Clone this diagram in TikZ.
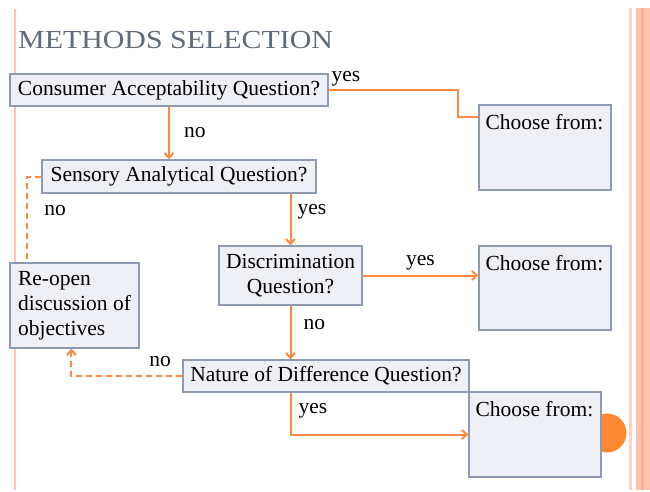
\documentclass[tikz,border=0pt]{standalone}
\usepackage{fontspec}
\setmainfont{Liberation Serif}
\usetikzlibrary{arrows.meta, positioning}
\definecolor{boxfill}{HTML}{EEF0F6}
\definecolor{boxline}{HTML}{8E9AB2}
\definecolor{flowline}{HTML}{FF8A3D}
\definecolor{titlegray}{HTML}{5F6A7A}
\definecolor{stripe}{HTML}{FFC2AC}
\definecolor{stripedark}{HTML}{FFAE90}
\definecolor{dotorange}{HTML}{FF8833}

\begin{document}
\begin{tikzpicture}[x=1pt, y=-1pt, font=\fontsize{21.5}{25}\selectfont, inner sep=2pt,
    qbox/.style={draw=boxline, fill=boxfill, line width=1.2pt, inner sep=4pt},
    flow/.style={draw=flowline, line width=2pt},
    tip/.style={-{Straight Barb[length=5pt, width=9pt]}},
    back/.style={flow, dash pattern=on 6pt off 4pt}]
    \useasboundingbox (0,0) rectangle (650,492);
    \draw[stripe, line width=2.5pt] (15,9) -- (15,490);
    \fill[stripe!70] (629,8) rectangle (632,490);
    \fill[stripe] (636,8) rectangle (650,490);
    \fill[stripedark] (641,8) rectangle (644,490);
    \fill[dotorange] (607,433) circle (19.5);

    \node[anchor=base west, inner sep=0pt, text=titlegray, font=\fontsize{26}{30}\selectfont] (title) at (18,49) {\scalebox{1.15}[1]{METHODS SELECTION}};

    \node[qbox, minimum width=318, minimum height=32] (cons) at (169,90) {Consumer Acceptability Question?};
    \node[qbox, minimum width=274, minimum height=33] (sens) at (179,176.5) {Sensory Analytical Question?};
    \node[qbox, minimum width=143, minimum height=59, align=center] (disc) at (290.5,275.5) {Discrimination\\Question?};
    \node[qbox, minimum width=286, minimum height=32] (nat) at (326,376) {Nature of Difference Question?};
    \node[qbox, minimum width=129, minimum height=85, align=left] (reopen) at (74.5,305.5) {Re-open\\discussion of\\objectives};
    \node[qbox, minimum width=132, minimum height=85, label={[anchor=north west, inner sep=0pt, xshift=7pt, yshift=-10pt]north west:Choose from:}] (ch1) at (545,147.5) {};
    \node[qbox, minimum width=132, minimum height=84, label={[anchor=north west, inner sep=0pt, xshift=7pt, yshift=-10pt]north west:Choose from:}] (ch2) at (545,288) {};
    \node[qbox, minimum width=132, minimum height=85, label={[anchor=north west, inner sep=0pt, xshift=7pt, yshift=-10pt]north west:Choose from:}] (ch3) at (535,434.5) {};

    \coordinate (bend) at (458,117);
    \draw[flow] (cons.east) node[above right, yshift=1pt] {yes} -| (bend) -- (bend -| ch1.west);
    \draw[flow, tip] (cons.south) -- node[right=12pt]{no} (cons.south |- sens.north);
    \draw[flow, tip] (sens.south -| disc.north) -- node[right=4pt, pos=0.35]{yes} (disc.north);
    \draw[back] (sens.west) -| node[right=14pt, pos=0.7]{no} ([xshift=18pt]reopen.north west);
    \draw[flow, tip] (disc.east) -- node[above=2pt]{yes} (disc.east -| ch2.west);
    \draw[flow, tip] (disc.south) -- node[right=10pt, pos=0.35]{no} (disc.south |- nat.north);
    \draw[back, tip] (nat.west) -| node[above=6pt, pos=0.1]{no} ([xshift=62pt]reopen.south west);
    \draw[flow, tip] (nat.south -| disc.south) |- node[right=5pt, pos=0.22]{yes} (ch3.west);
\end{tikzpicture}
\end{document}
